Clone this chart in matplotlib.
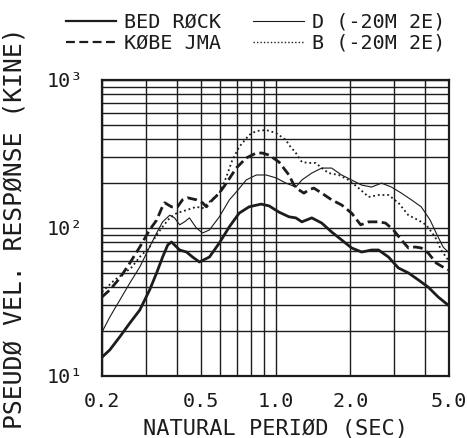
import numpy as np
import matplotlib
matplotlib.use("Agg")
import matplotlib.pyplot as plt
from matplotlib.lines import Line2D

# ----------------------------
# DATA
# ----------------------------
period_bed      = [0.200, 0.215, 0.236, 0.259, 0.284, 0.311, 0.332, 0.351, 0.368, 0.381,
                   0.392, 0.411, 0.438, 0.463, 0.494, 0.542, 0.594, 0.652, 0.714, 0.783,
                   0.875, 0.942, 1.033, 1.133, 1.208, 1.277, 1.400, 1.535, 1.683, 1.847,
                   2.026, 2.223, 2.440, 2.600, 2.850, 3.126, 3.430, 3.760, 4.120, 4.520, 4.950]
vel_bed         = [13.4, 15.0, 18.4, 22.8, 27.9, 38.1, 49.7, 63.7, 76.8, 80.4,
                   76.8, 71.0, 68.8, 63.7, 58.9, 63.7, 79.2, 102, 126, 139,
                   145, 141, 128, 119, 117, 110, 117, 108, 94, 83,
                   73.3, 68.8, 71.0, 71.0, 63.7, 53.7, 49.7, 44.6, 39.9, 34.2, 30.2]

period_kobe     = [0.200, 0.215, 0.236, 0.259, 0.284, 0.311, 0.332, 0.348, 0.358, 0.381,
                   0.403, 0.422, 0.442, 0.480, 0.508, 0.527, 0.557, 0.594, 0.634, 0.695,
                   0.762, 0.836, 0.883, 0.942, 1.033, 1.133, 1.186, 1.242, 1.301, 1.362,
                   1.427, 1.535, 1.683, 1.847, 2.026, 2.203, 2.372, 2.600, 2.774, 2.985,
                   3.214, 3.430, 3.656, 3.864, 4.120, 4.437, 4.950]
vel_kobe        = [34.2, 38.1, 45.9, 58.0, 74.4, 97, 113, 136, 148, 139,
                   139, 155, 160, 155, 148, 139, 155, 172, 201, 254,
                   297, 321, 321, 311, 279, 228, 195, 181, 172, 181,
                   186, 172, 155, 143, 126, 105, 110, 110, 108, 97,
                   83, 73.3, 74.4, 73.3, 67.8, 58.0, 52.0]

period_d        = [0.200, 0.215, 0.236, 0.259, 0.284, 0.311, 0.332, 0.351, 0.375, 0.392,
                   0.411, 0.430, 0.450, 0.480, 0.508, 0.542, 0.594, 0.652, 0.695, 0.762,
                   0.836, 0.917, 1.005, 1.102, 1.208, 1.277, 1.400, 1.535, 1.683, 1.847,
                   2.026, 2.223, 2.438, 2.673, 2.931, 3.214, 3.525, 3.864, 4.198, 4.437,
                   4.732, 4.950]
vel_d           = [19.8, 25.0, 32.6, 42.5, 54.5, 74.4, 92.5, 110, 122, 117,
                   105, 110, 117, 100, 92.5, 97, 119, 155, 175, 211,
                   228, 228, 218, 201, 189, 211, 235, 254, 254, 228,
                   211, 195, 189, 201, 189, 172, 155, 139, 113, 92.5,
                   74.4, 69.0]

period_b        = [0.200, 0.225, 0.247, 0.264, 0.284, 0.311, 0.332, 0.351, 0.375, 0.400,
                   0.438, 0.480, 0.508, 0.542, 0.594, 0.634, 0.670, 0.714, 0.783, 0.836,
                   0.917, 1.005, 1.102, 1.133, 1.208, 1.277, 1.362, 1.453, 1.535, 1.637,
                   1.797, 1.971, 2.162, 2.372, 2.600, 2.851, 3.126, 3.430, 3.760, 4.046,
                   4.396, 4.646, 4.950]
vel_b           = [37.0, 44.6, 49.7, 54.5, 63.7, 74.4, 89.7, 102, 117, 126,
                   132, 139, 136, 150, 172, 221, 288, 353, 425, 452,
                   459, 438, 393, 364, 321, 279, 275, 275, 254, 235,
                   228, 211, 186, 162, 167, 167, 148, 122, 113, 105,
                   86.9, 71.0, 61.0]

series_labels   = ["BED R\u00d8CK", "K\u00d8BE JMA", "D (-20M 2E)", "B (-20M 2E)"]

xtick_values    = [0.2, 0.5, 1.0, 2.0, 5.0]
xtick_labels    = ["0.2", "0.5", "1.0", "2.0", "5.0"]
ytick_values    = [10, 100, 1000]
ytick_labels    = ["10\u00b9", "10\u00b2", "10\u00b3"]

# ----------------------------
# CHART
# ----------------------------
plt.rcParams["font.family"] = ["DejaVu Sans Mono"]
ink                         = "#1c1c1c"

fig                         = plt.figure(figsize=(4.67, 4.38), dpi=100)
ax                          = fig.add_axes([0.2184, 0.1416, 0.7431, 0.6758])

ax.set_xscale("log")
ax.set_yscale("log")
ax.set_xlim(0.2, 5.0)
ax.set_ylim(10, 1000)

line_bed,   = ax.plot(period_bed, vel_bed, color=ink, linewidth=2.0,
                      solid_joinstyle="round")
line_kobe,  = ax.plot(period_kobe, vel_kobe, color=ink, linewidth=2.0,
                      linestyle=(0, (3.5, 1.6)))
line_d,     = ax.plot(period_d, vel_d, color=ink, linewidth=0.8)
line_b,     = ax.plot(period_b, vel_b, color=ink, linewidth=1.3,
                      linestyle=(0, (1.0, 1.6)))

# log paper grid: every decade line and every minor line
ax.set_xticks(xtick_values, xtick_labels)
ax.set_xticks([0.3, 0.4, 0.6, 0.7, 0.8, 0.9, 3.0, 4.0], minor=True)
ax.set_yticks(ytick_values, ytick_labels)
ax.yaxis.set_minor_locator(matplotlib.ticker.LogLocator(base=10, subs=np.arange(2, 10)))
ax.yaxis.set_minor_formatter(matplotlib.ticker.NullFormatter())
ax.xaxis.set_minor_formatter(matplotlib.ticker.NullFormatter())
ax.grid(which="both", color=ink, linewidth=1.0)
ax.set_axisbelow(True)

ax.tick_params(which="both", length=0, colors=ink)
ax.tick_params(axis="x", pad=11.5, labelsize=14.5)
ax.tick_params(axis="y", pad=13.5, labelsize=14.5)

for spine in ax.spines.values():
    spine.set_linewidth(1.6)
    spine.set_color(ink)

ax.set_xlabel("NATURAL PERI\u00d8D (SEC)", fontsize=15.8, color=ink, labelpad=6)
fig.text(0.032, 0.479, "PSEUD\u00d8 VEL. RESP\u00d8NSE (KINE)", rotation=90,
         ha="center", va="center", fontsize=17.8, color=ink)

# ----------------------------
# LEGEND
# ----------------------------
handles = [
    Line2D([], [], color=ink, linewidth=1.6),
    Line2D([], [], color=ink, linewidth=1.6, linestyle=(0, (4.0, 2.0))),
    Line2D([], [], color=ink, linewidth=0.8),
    Line2D([], [], color=ink, linewidth=1.0, linestyle=(0, (1.0, 1.5))),
]
fig.legend(
    handles,
    series_labels,
    ncol=2,
    loc="upper left",
    bbox_to_anchor=(0.141, 0.971),
    frameon=False,
    fontsize=14.5,
    handlelength=2.5,
    handletextpad=0.4,
    columnspacing=1.6,
    labelspacing=0.1,
    borderpad=0,
    borderaxespad=0,
    labelcolor=ink,
)

fig.savefig("out.png", dpi=100)
